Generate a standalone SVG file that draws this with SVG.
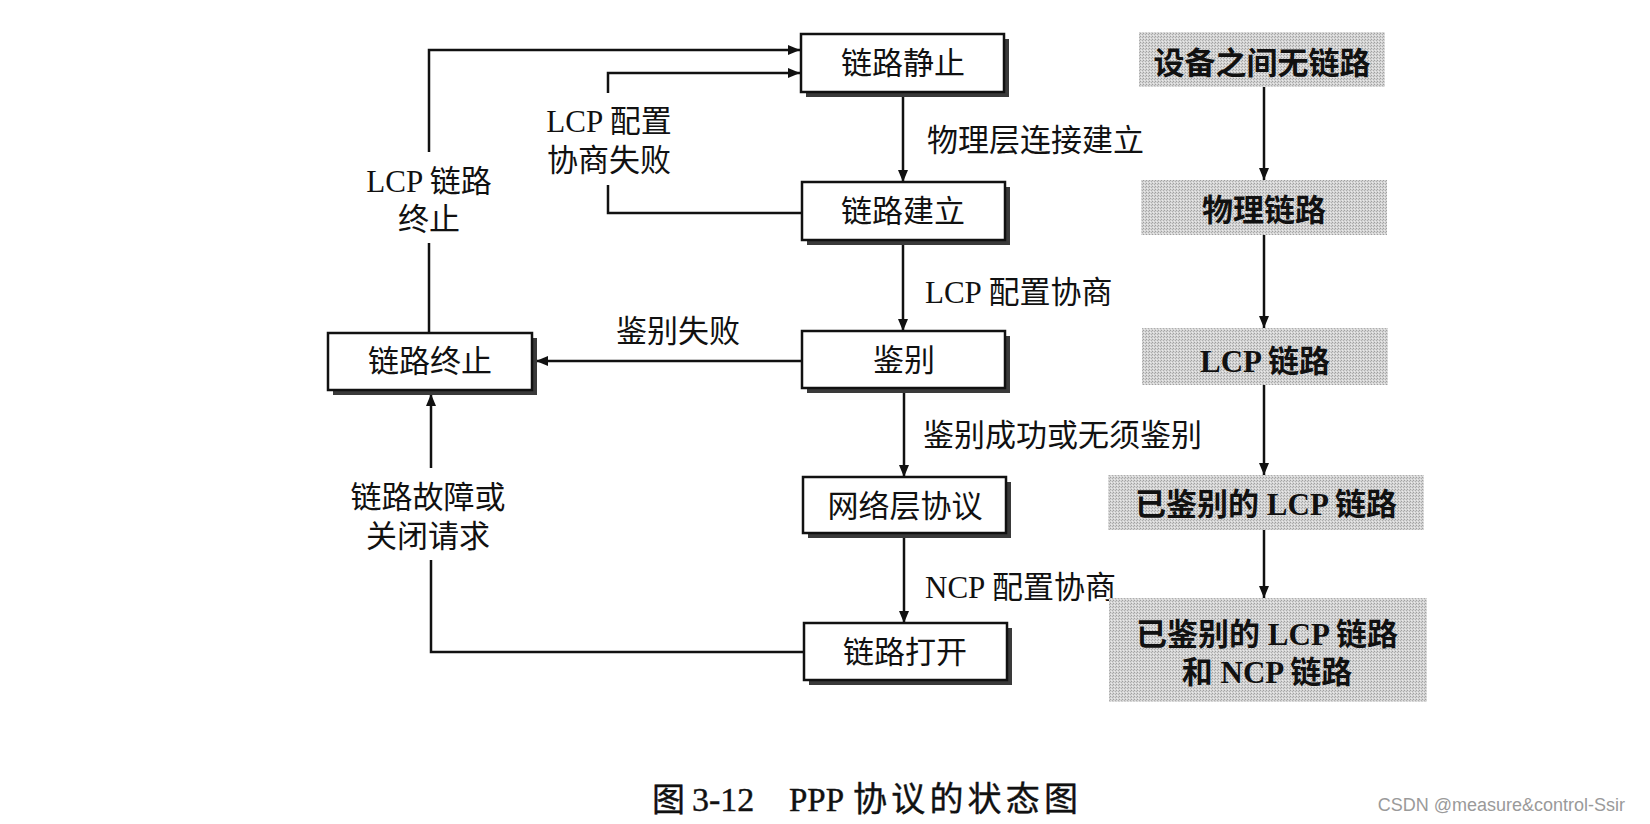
<svg xmlns="http://www.w3.org/2000/svg" width="1650" height="824" viewBox="0 0 1650 824">
<style>
  .t { font-family: "Liberation Serif", "Noto Sans CJK SC", serif; font-size: 31px; fill: #111; }
  .b { font-family: "Liberation Serif", "Noto Sans CJK SC", serif; font-size: 31px; font-weight: bold; fill: #111; }
  .m { text-anchor: middle; }
  .cap { font-family: "Liberation Serif", "Noto Sans CJK SC", serif; fill: #111; stroke: #111; stroke-width: 0.4; }
  .box { fill: #fff; stroke: #111; stroke-width: 2.5; }
  .shadow { fill: #3a3a3a; }
  .gray { fill: url(#dither); }
  .line { fill: none; stroke: #111; stroke-width: 2.5; }
  .arr { marker-end: url(#ah); }
  .wm { font-family: "Liberation Sans", Arial, sans-serif; font-size: 18px; fill: #9a9a9a; text-anchor: end; }
</style>
<defs>
  <marker id="ah" viewBox="0 0 12 10" refX="12" refY="5" markerWidth="12" markerHeight="10" markerUnits="userSpaceOnUse" orient="auto">
    <path d="M0,0 L12,5 L0,10 Z" fill="#111"/>
  </marker>
  <pattern id="dither" width="3" height="3" patternUnits="userSpaceOnUse">
    <rect width="3" height="3" fill="#d4d4d4"/>
    <rect x="0" y="0" width="1" height="1" fill="#a0a0a0"/>
    <rect x="2" y="1" width="1" height="1" fill="#aeaeae"/>
    <rect x="1" y="2" width="1" height="1" fill="#eaeaea"/>
  </pattern>
</defs>
<rect width="1650" height="824" fill="#fff"/>

<g id="connectors">
  <path class="line" d="M429,333 V243"/>
  <path class="line arr" d="M429,152 V50 H800"/>
  <path class="line" d="M802,213 H608 V185"/>
  <path class="line arr" d="M608,93 V73 H800"/>
  <path class="line arr" d="M903,92 V182"/>
  <path class="line arr" d="M903,240 V331"/>
  <path class="line arr" d="M904,388 V477"/>
  <path class="line arr" d="M904,533 V623"/>
  <path class="line arr" d="M802,361 H536"/>
  <path class="line" d="M804,652 H431 V560"/>
  <path class="line arr" d="M431,468 V394"/>
  <path class="line arr" d="M1264,87 V180"/>
  <path class="line arr" d="M1264,235 V328"/>
  <path class="line arr" d="M1264,385 V475"/>
  <path class="line arr" d="M1264,530 V598"/>
</g>

<g id="labels">
  <text class="t m" x="429" y="192">LCP 链路</text>
  <text class="t m" x="429" y="230">终止</text>
  <text class="t m" x="609" y="132">LCP 配置</text>
  <text class="t m" x="609" y="171">协商失败</text>
  <text class="t" x="927" y="151">物理层连接建立</text>
  <text class="t" x="925" y="303">LCP 配置协商</text>
  <text class="t m" x="678" y="342">鉴别失败</text>
  <text class="t" x="923" y="446">鉴别成功或无须鉴别</text>
  <text class="t" x="925" y="598">NCP 配置协商</text>
  <text class="t m" x="428" y="508">链路故障或</text>
  <text class="t m" x="428" y="547">关闭请求</text>
</g>

<g id="n-jingzhi">
  <rect class="shadow" x="806" y="39" width="203" height="58"/>
  <rect class="box" x="801" y="34" width="203" height="58"/>
  <text class="t m" x="903" y="74">链路静止</text>
</g>
<g id="n-jianli">
  <rect class="shadow" x="807" y="187" width="203" height="58"/>
  <rect class="box" x="802" y="182" width="203" height="58"/>
  <text class="t m" x="903" y="222">链路建立</text>
</g>
<g id="n-jianbie">
  <rect class="shadow" x="807" y="336" width="203" height="57"/>
  <rect class="box" x="802" y="331" width="203" height="57"/>
  <text class="t m" x="904" y="371">鉴别</text>
</g>
<g id="n-wangluo">
  <rect class="shadow" x="808" y="482" width="203" height="56"/>
  <rect class="box" x="803" y="477" width="203" height="56"/>
  <text class="t m" x="905" y="517">网络层协议</text>
</g>
<g id="n-dakai">
  <rect class="shadow" x="809" y="628" width="203" height="57"/>
  <rect class="box" x="804" y="623" width="203" height="57"/>
  <text class="t m" x="905" y="663">链路打开</text>
</g>
<g id="n-zhongzhi">
  <rect class="shadow" x="333" y="338" width="204" height="57"/>
  <rect class="box" x="328" y="333" width="204" height="57"/>
  <text class="t m" x="430" y="372">链路终止</text>
</g>

<g id="s-wulianlu">
  <rect class="gray" x="1139" y="32" width="246" height="55"/>
  <text class="b m" x="1262" y="74">设备之间无链路</text>
</g>
<g id="s-wuli">
  <rect class="gray" x="1141" y="180" width="246" height="55"/>
  <text class="b m" x="1264" y="221">物理链路</text>
</g>
<g id="s-lcp">
  <rect class="gray" x="1142" y="328" width="246" height="57"/>
  <text class="b m" x="1265" y="372">LCP 链路</text>
</g>
<g id="s-authlcp">
  <rect class="gray" x="1108" y="475" width="316" height="55"/>
  <text class="b m" x="1266" y="515">已鉴别的 LCP 链路</text>
</g>
<g id="s-authncp">
  <rect class="gray" x="1109" y="598" width="318" height="104"/>
  <text class="b m" x="1267" y="645">已鉴别的 LCP 链路</text>
  <text class="b m" x="1267" y="683">和 NCP 链路</text>
</g>

<g id="caption">
  <text class="cap" x="652" y="811" style="font-size:33px">图</text>
  <text class="cap" x="692" y="811" style="font-size:34px">3-12</text>
  <text class="cap" x="789" y="811" style="font-size:33px">PPP</text>
  <text class="cap" x="853" y="811" style="font-size:34px" textLength="225" lengthAdjust="spacing">协议的状态图</text>
</g>
<text class="wm" x="1625" y="811">CSDN @measure&amp;control-Ssir</text>
</svg>
